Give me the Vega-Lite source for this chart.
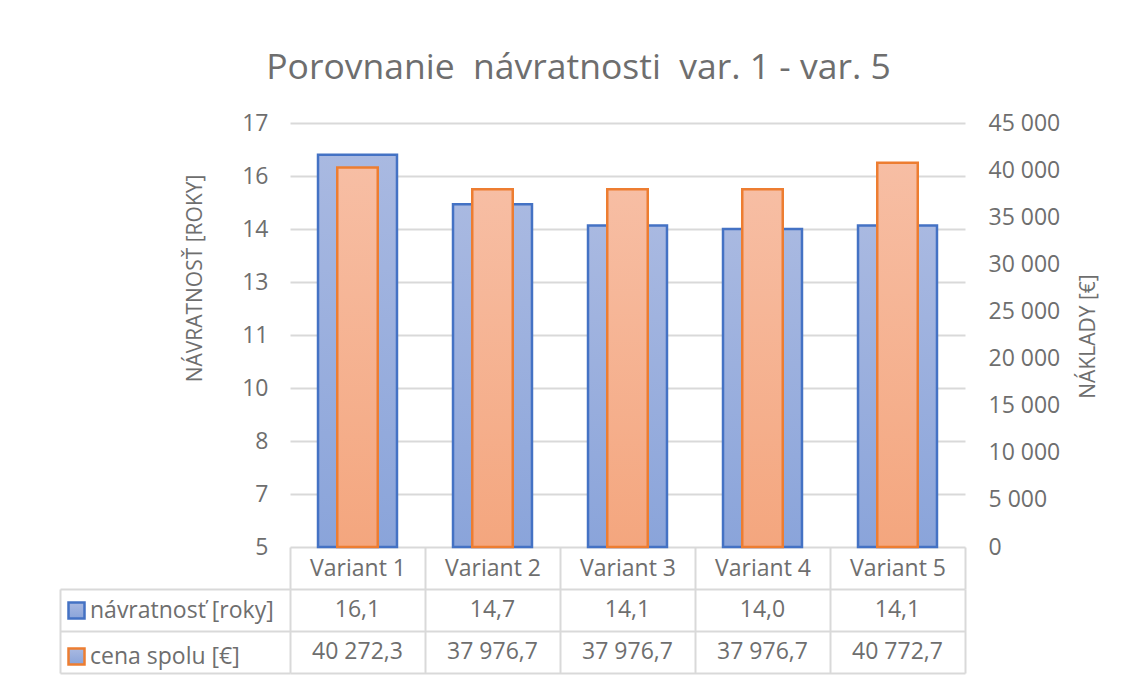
{
  "$schema": "https://vega.github.io/schema/vega-lite/v6.json",
  "padding": {"left": 59, "top": 50, "right": 10, "bottom": 5},
  "config": {
    "font": "Open Sans",
    "locale": {"number": {"decimal": ",", "thousands": " ", "grouping": [3], "currency": ["", " €"]}},
    "view": {"stroke": null},
    "axis": {"labelFont": "Open Sans", "titleFont": "Open Sans", "labelColor": "#6e6e6e", "titleColor": "#6e6e6e"}
  },
  "title": {"text": "Porovnanie\u00a0 návratnosti\u00a0 var. 1 - var. 5", "anchor": "middle", "fontSize": 35.5, "fontWeight": "normal", "color": "#6e6e6e", "font": "Open Sans", "offset": 26},
  "datasets": {
    "d": [
      {"variant": "Variant 1", "navratnost": 16.1, "cena": 40272.3},
      {"variant": "Variant 2", "navratnost": 14.7, "cena": 37976.7},
      {"variant": "Variant 3", "navratnost": 14.1, "cena": 37976.7},
      {"variant": "Variant 4", "navratnost": 14.0, "cena": 37976.7},
      {"variant": "Variant 5", "navratnost": 14.1, "cena": 40772.7}
    ]
  },
  "bounds": "flush",
  "spacing": 42,
  "vconcat": [
    {
      "width": 675,
      "height": 424,
      "data": {"name": "d"},
      "layer": [
        {
          "mark": {
            "type": "bar",
            "width": {"band": 0.585},
            "fill": {"gradient": "linear", "x1": 0, "y1": 0, "x2": 0, "y2": 1, "stops": [{"offset": 0, "color": "#a9b9e1"}, {"offset": 1, "color": "#8aa4da"}]},
            "strokeWidth": 2.5
          },
          "encoding": {
            "x": {"field": "variant", "type": "nominal", "sort": null, "axis": null, "scale": {"paddingInner": 0, "paddingOuter": 0}},
            "y": {
              "field": "navratnost", "type": "quantitative",
              "scale": {"domain": [5, 17], "zero": false, "nice": false},
              "axis": {
                "title": "NÁVRATNOSŤ [ROKY]", "values": [5, 6.5, 8, 9.5, 11, 12.5, 14, 15.5, 17], "format": ".0f",
                "grid": true, "gridColor": "#d9d9d9", "gridWidth": 2, "domain": false, "ticks": false,
                "labelPadding": 22, "labelFontSize": 23,
                "titleFontSize": 21, "titleFontWeight": "normal", "titleX": -95, "titleY": 155, "titleBaseline": "middle", "titleAngle": -90
              }
            },
            "y2": {"datum": 5},
            "stroke": {
              "datum": "návratnosť [roky]", "type": "nominal",
              "scale": {"domain": ["návratnosť [roky]", "cena spolu [€]"], "range": ["#4472c4", "#ed7d31"]},
              "legend": {
                "title": null, "orient": "none", "legendX": -225, "legendY": 476, "direction": "vertical",
                "padding": 0, "symbolType": "square", "symbolSize": 256, "symbolStrokeWidth": 2.5,
                "labelFontSize": 23, "labelColor": "#6e6e6e", "labelFont": "Open Sans", "labelOffset": 2, "labelLimit": 400, "rowPadding": 19,
                "encode": {"symbols": {"update": {"fill": {"signal": "datum.value === 'návratnosť [roky]' ? '#a3b4df' : '#f6b596'"}, "fillOpacity": {"value": 1}}}}
              }
            }
          }
        },
        {
          "mark": {
            "type": "bar",
            "width": {"band": 0.3},
            "fill": {"gradient": "linear", "x1": 0, "y1": 0, "x2": 0, "y2": 1, "stops": [{"offset": 0, "color": "#f7bea4"}, {"offset": 1, "color": "#f4a67e"}]},
            "strokeWidth": 2.5
          },
          "encoding": {
            "x": {"field": "variant", "type": "nominal", "sort": null, "axis": null},
            "y": {
              "field": "cena", "type": "quantitative",
              "scale": {"domain": [0, 45000], "nice": false},
              "axis": {
                "orient": "right", "title": "NÁKLADY [€]", "values": [0, 5000, 10000, 15000, 20000, 25000, 30000, 35000, 40000, 45000], "format": ",.0f",
                "grid": false, "domain": false, "ticks": false, "labelPadding": 23, "labelFontSize": 23,
                "titleFontSize": 21, "titleFontWeight": "normal", "titleX": 123, "titleY": 213, "titleBaseline": "middle", "titleAngle": -90
              }
            },
            "stroke": {"datum": "cena spolu [€]", "type": "nominal"}
          }
        }
      ],
      "resolve": {"scale": {"y": "independent"}}
    },
    {
      "width": 675,
      "height": 84,
      "data": {"name": "d"},
      "encoding": {
        "x": {
          "field": "variant", "type": "nominal", "sort": null,
          "scale": {"paddingInner": 0, "paddingOuter": 0},
          "axis": {
            "orient": "top", "title": null, "labels": true, "labelFontSize": 23, "labelBaseline": "middle", "labelPadding": -21, "labelAngle": 0,
            "ticks": true, "tickSize": 42, "tickWidth": 2, "tickColor": "#d9d9d9", "tickBand": "extent",
            "domain": false, "grid": true, "gridColor": "#d9d9d9", "gridWidth": 2
          }
        }
      },
      "layer": [
        {
          "mark": {"type": "text", "fontSize": 23, "color": "#6e6e6e", "font": "Open Sans", "baseline": "middle"},
          "encoding": {
            "y": {
              "datum": "n", "type": "nominal",
              "scale": {"domain": ["n", "c"], "paddingInner": 0, "paddingOuter": 0},
              "axis": {
                "labels": false, "title": null, "tickBand": "extent", "grid": true, "gridColor": "#d9d9d9", "gridWidth": 2,
                "ticks": true, "tickSize": -230, "tickWidth": 2, "tickColor": "#d9d9d9",
                "offset": 230, "domain": true, "domainColor": "#d9d9d9", "domainWidth": 2
              }
            },
            "text": {"field": "navratnost", "format": ".1f"}
          }
        },
        {
          "mark": {"type": "text", "fontSize": 23, "color": "#6e6e6e", "font": "Open Sans", "baseline": "middle"},
          "encoding": {
            "y": {"datum": "c", "type": "nominal"},
            "text": {"field": "cena", "format": ",.1f"}
          }
        }
      ]
    }
  ]
}
